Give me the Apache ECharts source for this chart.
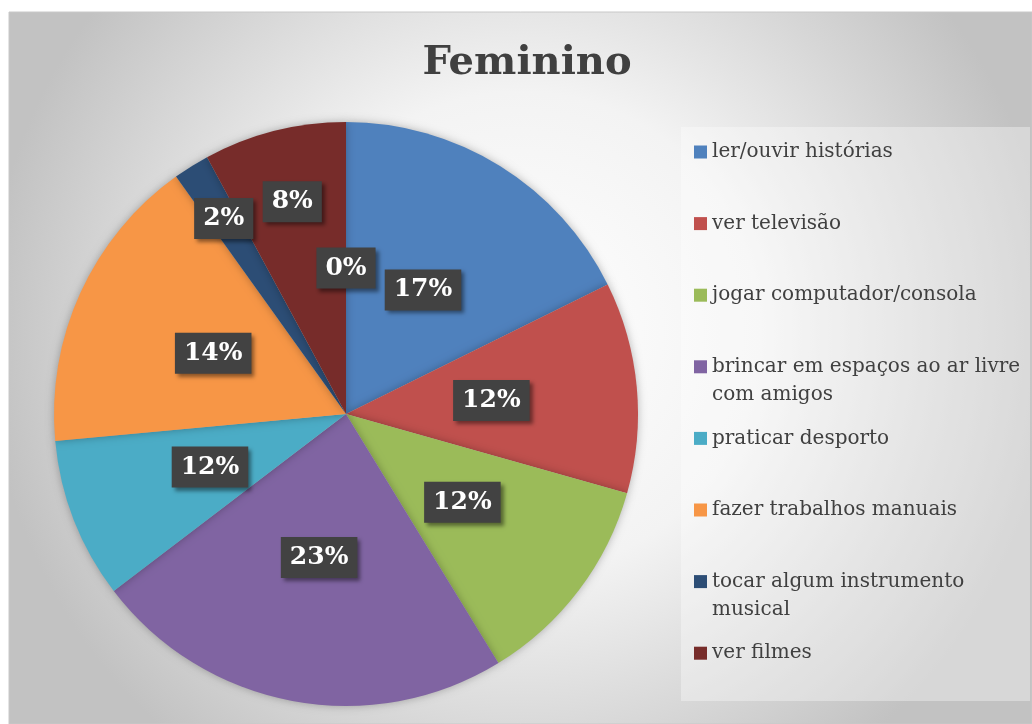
<!DOCTYPE html>
<html>
<head>
<meta charset="utf-8">
<script src="https://cdn.jsdelivr.net/npm/echarts@6/dist/echarts.min.js"></script>
<style>
html,body{margin:0;padding:0;background:#fff;}
#c{width:1032px;height:724px;}
</style>
</head>
<body>
<div id="c"></div>
<script>
const categories = [
  'ler/ouvir histórias',
  'ver televisão',
  'jogar computador/consola',
  'brincar em espaços ao ar livre com amigos',
  'praticar desporto',
  'fazer trabalhos manuais',
  'tocar algum instrumento musical',
  'ver filmes',
  'outro'
];
// slice sizes as drawn (percent of the circle)
const values = [17.7, 11.7, 11.9, 23.4, 8.9, 16.6, 2.0, 7.9, 0];
// data labels as printed on the chart
const labelTexts = ['17%', '12%', '12%', '23%', '12%', '14%', '2%', '8%', '0%'];
const colors = ['#4f81bd', '#c0504d', '#9bbb59', '#8064a2', '#4bacc6', '#f79646', '#2c4d75', '#772c2a', '#5f5f5f'];
const legendNames = categories.slice(0, 8);
const legendWrapped = {
  'brincar em espaços ao ar livre com amigos': 'brincar em espaços ao ar livre\ncom amigos',
  'tocar algum instrumento musical': 'tocar algum instrumento\nmusical'
};

// layout / style constants
const PIE_CENTER = [346, 414];
const PIE_RADIUS = 292;
const labelRadial = [0.5, 0.5, 0.5, 0.5, 0.5, 0.5, 0.79, 0.75, 0.5];

const chart = echarts.init(document.getElementById('c'), null, {renderer: 'canvas'});
const serif = '"DejaVu Serif", serif';

function legendText(n) {
  const t = legendWrapped[n];
  // three text lines per item so that the marker sits on the first printed line
  return t ? '\n' + t : '\n' + n + '\n';
}

chart.setOption({
  animation: false,
  graphic: [
    {
      type: 'rect', z: -10, silent: true,
      shape: {x: 9, y: 12, width: 1023, height: 712},
      style: {
        fill: new echarts.graphic.RadialGradient(0.5, 0.45, 0.75, [
          {offset: 0, color: '#ffffff'},
          {offset: 0.45, color: '#f3f3f3'},
          {offset: 1, color: '#c2c2c2'}
        ]),
        stroke: '#c8c8c8', lineWidth: 1
      }
    },
    {
      type: 'rect', z: -9, silent: true,
      shape: {x: 681, y: 127, width: 349, height: 574},
      style: {fill: 'rgba(255,255,255,0.35)'}
    }
  ],
  title: {
    text: 'Feminino',
    left: 522,
    top: 39,
    textAlign: 'center',
    textStyle: {fontFamily: serif, fontWeight: 'bold', fontSize: 40, color: '#404040'}
  },
  legend: {
    orient: 'vertical',
    left: 694,
    top: 110,
    padding: 0,
    itemWidth: 13,
    itemHeight: 13,
    itemGap: -12.4,
    icon: 'rect',
    data: legendNames,
    formatter: legendText,
    textStyle: {fontFamily: serif, fontSize: 20, color: '#404040', lineHeight: 28}
  },
  series: [{
    type: 'pie',
    center: PIE_CENTER,
    radius: [0, PIE_RADIUS],
    startAngle: 90,
    clockwise: true,
    avoidLabelOverlap: false,
    color: colors,
    itemStyle: {shadowBlur: 8, shadowColor: 'rgba(0,0,0,0.28)'},
    label: {
      show: true,
      position: 'inside',
      formatter: p => labelTexts[p.dataIndex],
      fontFamily: serif,
      fontWeight: 'bold',
      fontSize: 25,
      color: '#ffffff',
      backgroundColor: '#424242',
      padding: [8, 9, 8, 9],
      shadowColor: 'rgba(0,0,0,0.45)',
      shadowBlur: 4,
      shadowOffsetX: 3,
      shadowOffsetY: 3
    },
    labelLayout: function (p) {
      const r = p.labelRect;
      const lx = r.x + r.width / 2, ly = r.y + r.height / 2;
      const vx = lx - PIE_CENTER[0], vy = ly - PIE_CENTER[1];
      const d = Math.hypot(vx, vy) || 1;
      const s = labelRadial[p.dataIndex] * PIE_RADIUS / d - 1;
      return {dx: vx * s, dy: vy * s};
    },
    labelLine: {show: false},
    emphasis: {disabled: true},
    data: categories.map((c, i) => ({name: c, value: values[i]}))
  }]
});
</script>
</body>
</html>
